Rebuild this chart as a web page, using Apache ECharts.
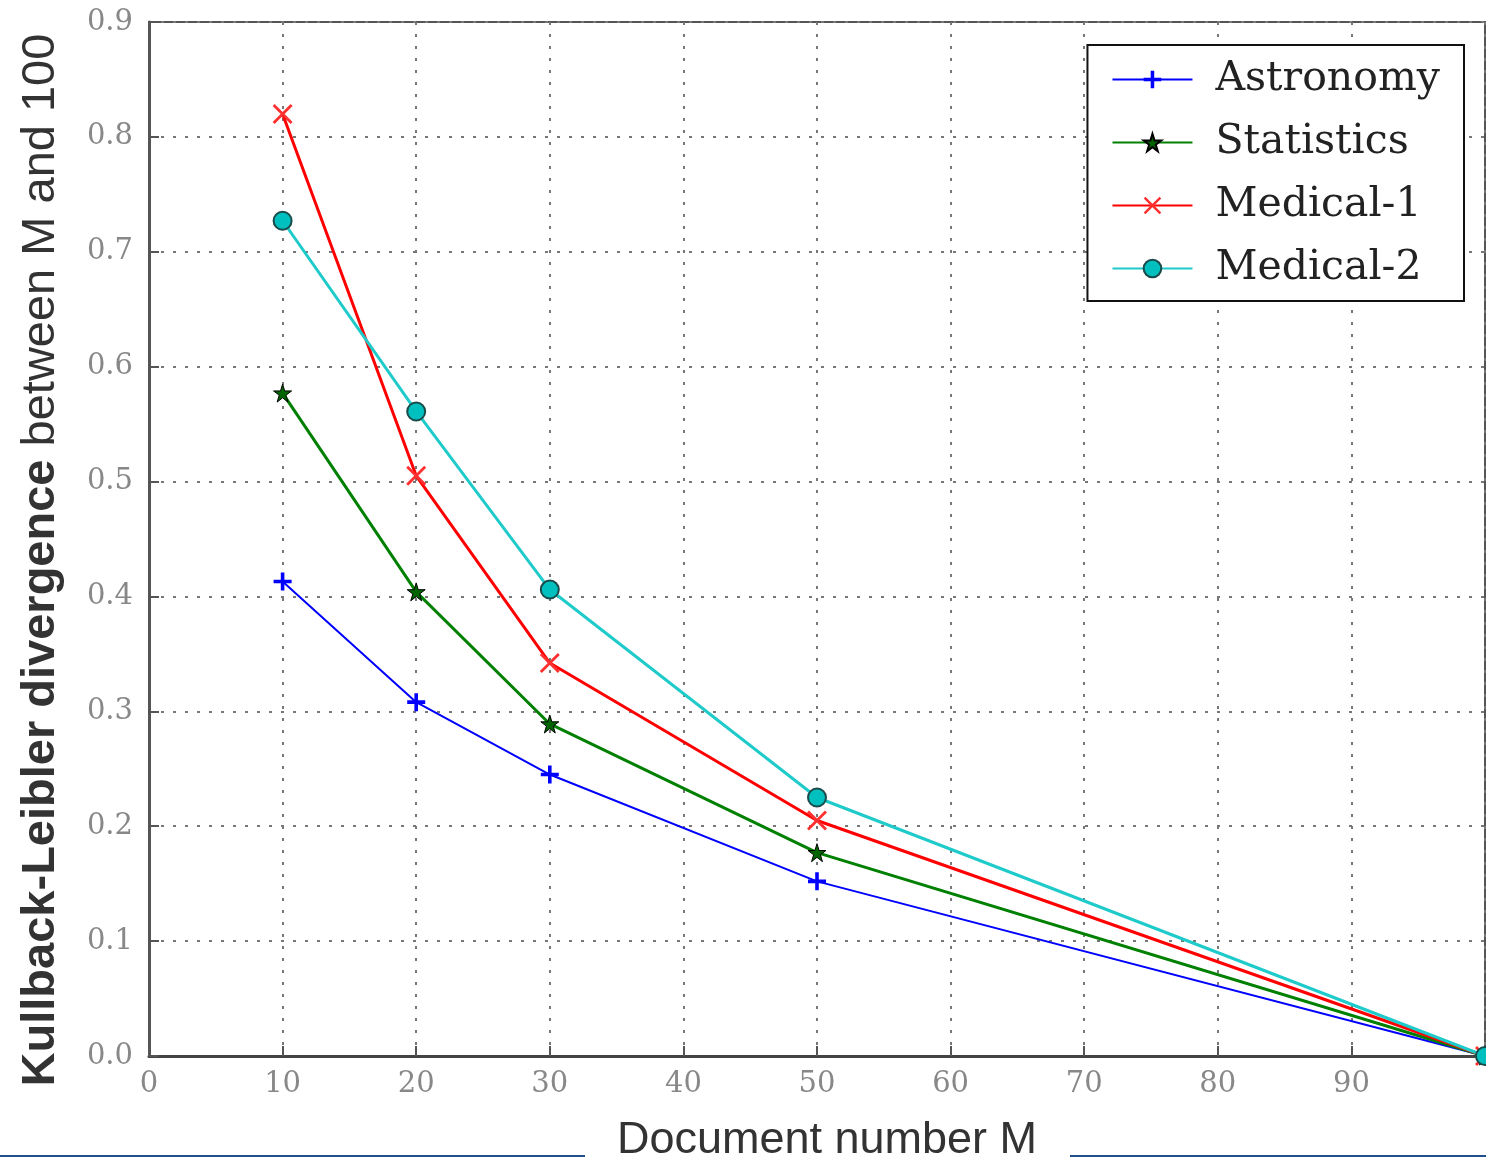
<!DOCTYPE html>
<html>
<head>
<meta charset="utf-8">
<script src="https://cdn.jsdelivr.net/npm/echarts@6/dist/echarts.min.js"></script>
<style>
  html, body { margin: 0; padding: 0; background: #fff; }
  #chart { width: 1486px; height: 1158px; }
</style>
</head>
<body>
<div id="chart"></div>
<script>
var docNumbers = [10, 20, 30, 50, 100];
var astronomy = [0.413, 0.308, 0.245, 0.152, 0.0];
var statistics = [0.577, 0.404, 0.289, 0.177, 0.0];
var medical1 = [0.820, 0.505, 0.342, 0.205, 0.0];
var medical2 = [0.727, 0.561, 0.406, 0.225, 0.0];

function pairs(vals) {
  return docNumbers.map(function (m, i) { return [m, vals[i]]; });
}

var chart = echarts.init(document.getElementById('chart'));

var tickFont = { fontFamily: 'DejaVu Serif', fontSize: 29, color: '#888' };

var option = {
  animation: false,
  backgroundColor: '#fff',
  grid: {
    left: 149, right: 1, top: 22, bottom: 102,
    outerBoundsMode: 'none',
    show: true, borderColor: '#555', borderWidth: 2
  },
  //图例
  legend: {
    right: 22, top: 45,
    orient: 'vertical',
    backgroundColor: '#fff',
    borderColor: '#111',
    borderWidth: 2,
    padding: [14, 24, 12, 24],
    itemGap: 22,
    itemWidth: 80,
    itemHeight: 22,
    textStyle: { fontFamily: 'DejaVu Serif', fontSize: 41, color: '#222', padding: [0, 0, 0, 18] },
    data: ['Astronomy', 'Statistics', 'Medical-1', 'Medical-2']
  },
  xAxis: {
    type: 'value', min: 0, max: 100, interval: 10,
    name: 'Document number M',
    nameLocation: 'middle', nameGap: 62,
    nameTextStyle: { fontFamily: 'Liberation Sans', fontSize: 45, color: '#333', padding: [0, 0, 0, 20] },
    axisLine: { lineStyle: { color: '#444', width: 3 } },
    axisTick: { inside: true, length: 10, lineStyle: { color: '#555', width: 2 } },
    axisLabel: Object.assign({ margin: 14, formatter: function (v) { return v === 100 ? '' : v; } }, tickFont),
    splitLine: { show: true, lineStyle: { color: '#777', type: [3, 9], width: 2 } }
  },
  yAxis: {
    type: 'value', min: 0, max: 0.9, interval: 0.1,
    name: '{b|Kullback-Leibler divergence }{n|between M and 100}',
    nameLocation: 'middle', nameGap: 84, nameRotate: 90,
    nameTextStyle: {
      padding: [0, 42, 0, 0],
      rich: {
        b: { fontFamily: 'Liberation Sans', fontSize: 47, fontWeight: 'bold', color: '#333' },
        n: { fontFamily: 'Liberation Sans', fontSize: 47, color: '#333' }
      }
    },
    axisLine: { show: true, lineStyle: { color: '#555', width: 3 } },
    axisTick: { inside: true, length: 10, lineStyle: { color: '#555', width: 2 } },
    axisLabel: Object.assign({ margin: 16, formatter: function (v) { return v.toFixed(1); } }, tickFont),
    splitLine: { show: true, lineStyle: { color: '#777', type: [3, 9], width: 2 } }
  },
  series: [
    {
      name: 'Astronomy', type: 'line', data: pairs(astronomy),
      symbol: 'path://M4,0H6V10H4Z M0,4H10V6H0Z', symbolSize: 18,
      lineStyle: { color: '#0000ff', width: 2 },
      itemStyle: { color: '#0000ff' }, z: 3
    },
    {
      name: 'Statistics', type: 'line', data: pairs(statistics),
      symbol: 'path://M50,0L61,35H98L68,57L79,92L50,70L21,92L32,57L2,35H39Z', symbolSize: 18,
      lineStyle: { color: '#008000', width: 3 },
      itemStyle: { color: '#006400', borderColor: '#000', borderWidth: 1 }, z: 4
    },
    {
      name: 'Medical-1', type: 'line', data: pairs(medical1),
      symbol: 'path://M1,0L5,4L9,0L10,1L6,5L10,9L9,10L5,6L1,10L0,9L4,5L0,1Z', symbolSize: 20,
      lineStyle: { color: '#ff0000', width: 3 },
      itemStyle: { color: '#ff3030' }, z: 5
    },
    {
      name: 'Medical-2', type: 'line', data: pairs(medical2),
      symbol: 'circle', symbolSize: 18,
      lineStyle: { color: '#1fcaca', width: 3 },
      itemStyle: { color: '#00bfbf', borderColor: '#1a4a4a', borderWidth: 2 }, z: 6
    }
  ],
  graphic: [
    { type: 'line', shape: { x1: 0, y1: 1156, x2: 585, y2: 1156 }, style: { stroke: '#1f4e8c', lineWidth: 2 } },
    { type: 'line', shape: { x1: 1070, y1: 1156, x2: 1486, y2: 1156 }, style: { stroke: '#1f4e8c', lineWidth: 2 } }
  ]
};

chart.setOption(option);
</script>
</body>
</html>
